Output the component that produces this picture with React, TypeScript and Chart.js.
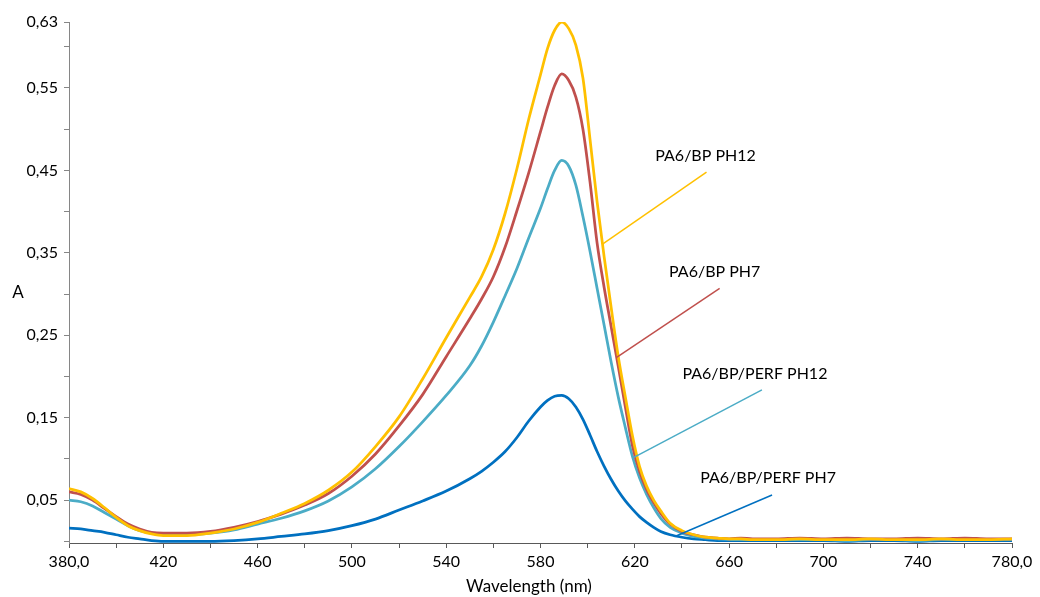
import React, { useEffect, useRef } from 'react';
import { Chart, registerables } from 'chart.js';

Chart.register(...registerables);

// Wavelength grid (nm) shared by every spectrum
const wavelengths = [
  380, 385, 390, 395, 400, 405, 410, 415, 420,
  430, 440, 450, 460, 470, 480, 490, 500, 510, 520, 530, 540, 550,
  555, 560, 565, 570, 575, 580,
  583, 586, 589, 592, 595, 598, 601, 604, 607, 610, 613, 616, 619, 622, 625, 628, 631,
  635, 640, 645, 650, 655, 660, 665, 670,
  680, 690, 700, 710, 720, 730, 740, 750, 760, 770, 780,
];

// Absorbance values
const pa6BpPh12 = [
  0.064, 0.060, 0.052, 0.041, 0.029, 0.019, 0.013, 0.009, 0.007,
  0.007, 0.010, 0.015, 0.023, 0.034, 0.046, 0.062, 0.084, 0.115, 0.151, 0.197, 0.247, 0.296,
  0.321, 0.354, 0.398, 0.452, 0.512, 0.566,
  0.598, 0.620, 0.630, 0.622, 0.602, 0.562, 0.488, 0.412, 0.345, 0.283, 0.224, 0.175, 0.128, 0.091, 0.067, 0.050, 0.037,
  0.022, 0.013, 0.008, 0.005, 0.004, 0.003, 0.003, 0.002,
  0.002, 0.003, 0.002, 0.002, 0.003, 0.002, 0.002, 0.003, 0.002, 0.002, 0.003,
];

const pa6BpPh7 = [
  0.060, 0.057, 0.050, 0.040, 0.030, 0.021, 0.015, 0.011, 0.010,
  0.010, 0.012, 0.017, 0.024, 0.033, 0.044, 0.058, 0.079, 0.106, 0.140, 0.178, 0.224, 0.270,
  0.294, 0.321, 0.357, 0.401, 0.447, 0.497,
  0.527, 0.553, 0.567, 0.559, 0.539, 0.500, 0.436, 0.362, 0.308, 0.260, 0.212, 0.163, 0.116, 0.085, 0.063, 0.047, 0.034,
  0.021, 0.012, 0.008, 0.005, 0.004, 0.003, 0.004, 0.003,
  0.003, 0.004, 0.003, 0.004, 0.003, 0.003, 0.004, 0.003, 0.004, 0.003, 0.003,
];

const pa6BpPerfPh12 = [
  0.050, 0.048, 0.043, 0.035, 0.027, 0.019, 0.013, 0.010, 0.008,
  0.008, 0.010, 0.014, 0.021, 0.028, 0.037, 0.049, 0.066, 0.088, 0.115, 0.145, 0.177, 0.213,
  0.237, 0.266, 0.298, 0.331, 0.368, 0.404,
  0.428, 0.450, 0.462, 0.455, 0.432, 0.394, 0.352, 0.307, 0.262, 0.217, 0.175, 0.138, 0.103, 0.077, 0.057, 0.041, 0.028,
  0.017, 0.010, 0.006, 0.004, 0.003, 0.002, 0.002, 0.002,
  0.002, 0.002, 0.002, 0.001, 0.002, 0.002, 0.001, 0.002, 0.002, 0.002, 0.002,
];

const pa6BpPerfPh7 = [
  0.016, 0.015, 0.013, 0.011, 0.008, 0.005, 0.003, 0.001, 0.000,
  0.000, 0.000, 0.001, 0.003, 0.006, 0.009, 0.013, 0.019, 0.027, 0.038, 0.049, 0.061, 0.076,
  0.085, 0.096, 0.109, 0.126, 0.146, 0.163,
  0.171, 0.176, 0.177, 0.173, 0.163, 0.148, 0.129, 0.109, 0.091, 0.075, 0.061, 0.049, 0.039, 0.030, 0.023, 0.017, 0.012,
  0.008, 0.005, 0.003, 0.002, 0.001, 0.001, 0.001, 0.001,
  0.001, 0.001, 0.001, 0.000, 0.001, 0.001, 0.000, 0.001, 0.001, 0.001, 0.001,
];

const seriesNames = ['PA6/BP PH12', 'PA6/BP PH7', 'PA6/BP/PERF PH12', 'PA6/BP/PERF PH7'];
const seriesValues = [pa6BpPh12, pa6BpPh7, pa6BpPerfPh12, pa6BpPerfPh7];
const seriesColors = ['#FFC000', '#C0504D', '#4BACC6', '#0070C0'];

// Where each series label's leader line touches its curve (nm)
const labelAnchors = [606.3, 612.3, 619.2, 637.5];

// Axis ticks
const xTickValues = [380, 400, 420, 440, 460, 480, 500, 520, 540, 560, 580, 600, 620, 640, 660, 680, 700, 720, 740, 760, 780];
const xTickLabels = ['380,0', '420', '460', '500', '540', '580', '620', '660', '700', '740', '780,0'];
const xLabeledValues = [380, 420, 460, 500, 540, 580, 620, 660, 700, 740, 780];
const yTickValues = [0, 0.05, 0.1, 0.15, 0.2, 0.25, 0.3, 0.35, 0.4, 0.45, 0.5, 0.55, 0.6, 0.63];
const yTickLabels = ['0,05', '0,15', '0,25', '0,35', '0,45', '0,55', '0,63'];
const yLabeledValues = [0.05, 0.15, 0.25, 0.35, 0.45, 0.55, 0.63];

const FONT_FAMILY = 'Lato, "Noto Sans", sans-serif';
const FONT_SIZE = 16;
const TITLE_FONT_SIZE = 17;

// Leader line end offsets (px) from the anchor, and text offsets from the line end
const leaderOffsets = [
  [104, -72],
  [103, -69],
  [129, -68],
  [96, -41],
];
const textOffsets = [
  [-1, -16],
  [-5, -17],
  [-7, -16],
  [-4, -17],
];

function valueAt(values: number[], nm: number): number {
  for (let i = 0; i < wavelengths.length - 1; i++) {
    const a = wavelengths[i];
    const b = wavelengths[i + 1];
    if (nm >= a && nm <= b) {
      const t = (nm - a) / (b - a);
      return values[i] + (values[i + 1] - values[i]) * t;
    }
  }
  return values[values.length - 1];
}

const labelsPlugin = {
  id: 'seriesLabels',
  afterDatasetsDraw(chart: any) {
    const { ctx, scales } = chart;
    const x = scales.x;
    const y = scales.y;
    ctx.save();
    ctx.font = `${FONT_SIZE}px ${FONT_FAMILY}`;
    ctx.fillStyle = '#000';
    ctx.textAlign = 'center';
    ctx.textBaseline = 'middle';
    seriesNames.forEach((name, i) => {
      const nm = labelAnchors[i];
      const px = x.getPixelForValue(nm);
      const py = y.getPixelForValue(valueAt(seriesValues[i], nm));
      const ex = px + leaderOffsets[i][0];
      const ey = py + leaderOffsets[i][1];
      ctx.strokeStyle = seriesColors[i];
      ctx.lineWidth = 1.5;
      ctx.beginPath();
      ctx.moveTo(px, py);
      ctx.lineTo(ex, ey);
      ctx.stroke();
      ctx.fillText(name, ex + textOffsets[i][0], ey + textOffsets[i][1]);
    });
    // axis titles
    ctx.font = `${TITLE_FONT_SIZE}px ${FONT_FAMILY}`;
    ctx.fillText('A', 18, 293);
    ctx.fillText('Wavelength (nm)', 529, 587);
    ctx.restore();
  },
};

function formatLabel(v: number, values: number[], labels: string[]): string {
  const idx = values.findIndex((t) => Math.abs(t - v) < 1e-6);
  return idx >= 0 ? labels[idx] : '';
}

export default function App() {
  const canvasRef = useRef<HTMLCanvasElement>(null);

  useEffect(() => {
    const canvas = canvasRef.current;
    if (!canvas) return;
    const font = { family: FONT_FAMILY, size: FONT_SIZE };
    const chart = new Chart(canvas, {
      type: 'line',
      data: {
        datasets: seriesNames.map((name, i) => ({
          label: name,
          data: wavelengths.map((w, j) => ({ x: w, y: seriesValues[i][j] })),
          borderColor: seriesColors[i],
          backgroundColor: seriesColors[i],
          borderWidth: 2.75,
          pointRadius: 0,
          cubicInterpolationMode: 'monotone' as const,
          fill: false,
        })),
      },
      options: {
        responsive: false,
        animation: false,
        devicePixelRatio: 1,
        layout: { padding: { top: 22, right: 28, left: 0, bottom: 0 } },
        plugins: {
          legend: { display: false },
          tooltip: { enabled: false },
        },
        scales: {
          x: {
            type: 'linear',
            min: 380,
            max: 780,
            afterBuildTicks: (s: any) => {
              s.ticks = xTickValues.map((v) => ({ value: v }));
            },
            afterFit: (s: any) => {
              s.height = 54;
            },
            ticks: {
              autoSkip: false,
              maxRotation: 0,
              padding: 4,
              color: '#000',
              font,
              callback: (v: any) => formatLabel(Number(v), xLabeledValues, xTickLabels),
            },
            grid: { drawOnChartArea: false, drawTicks: true, tickLength: 5, color: '#595959', lineWidth: 1 },
            border: { color: '#595959', width: 1 },
          },
          y: {
            type: 'linear',
            min: -0.002,
            max: 0.63,
            afterBuildTicks: (s: any) => {
              s.ticks = yTickValues.map((v) => ({ value: v }));
            },
            afterFit: (s: any) => {
              s.width = 69;
            },
            ticks: {
              autoSkip: false,
              padding: 6,
              color: '#000',
              font,
              callback: (v: any) => formatLabel(Number(v), yLabeledValues, yTickLabels),
            },
            grid: { drawOnChartArea: false, drawTicks: true, tickLength: 5, color: '#868686', lineWidth: 1 },
            border: { color: '#868686', width: 1 },
          },
        },
      },
      plugins: [labelsPlugin],
    });
    return () => chart.destroy();
  }, []);

  return (
    <div style={{ position: 'fixed', left: 0, top: 0, width: 1040, height: 597, background: '#fff' }}>
      <canvas ref={canvasRef} width={1040} height={597} style={{ display: 'block' }} />
    </div>
  );
}
